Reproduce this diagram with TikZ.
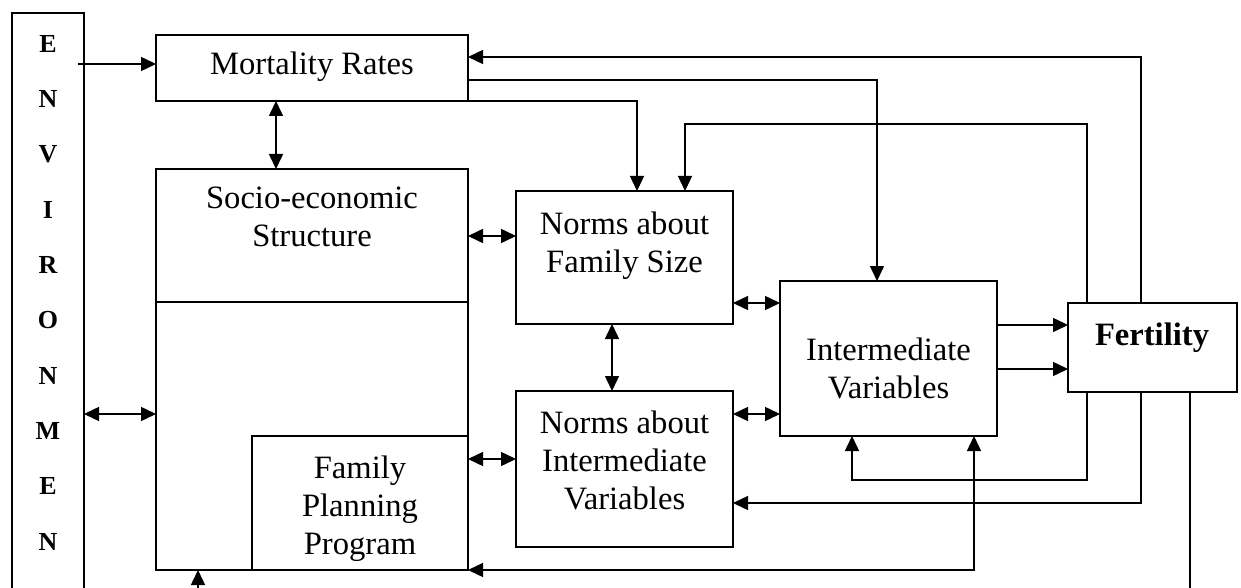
\documentclass[tikz,border=0pt]{standalone}
\usepackage{fontspec}
\setmainfont{Liberation Serif}
\usetikzlibrary{arrows.meta}
\begin{document}
\begin{tikzpicture}[x=0.5pt,y=-0.5pt,
  box/.style={draw,line width=0.75pt,inner sep=0pt,outer sep=0pt,anchor=north west},
  txt/.style={align=center,inner sep=0pt,font=\fontsize{16.3}{19}\selectfont},
  lt/.style={font=\bfseries\fontsize{13}{15}\selectfont,inner sep=0pt},
  con/.style={line width=0.75pt},
  arr/.style={con,-{Triangle[length=7.5pt,width=7pt]}},
  dbl/.style={con,{Triangle[length=7.5pt,width=7pt]}-{Triangle[length=7.5pt,width=7pt]}}]
\useasboundingbox (0,0) rectangle (1241,588);
\clip (0,0) rectangle (1241,588);
% boxes
\node[box,minimum width=36pt,minimum height=300pt] (env) at (12,13) {};
\node[box,minimum width=156pt,minimum height=33pt] (mort) at (156,35) {};
\node[box,minimum width=156pt,minimum height=200.5pt] (socio) at (156,169) {};
\node[box,minimum width=108pt,minimum height=67pt] (fp) at (252,436) {};
\node[box,minimum width=108.5pt,minimum height=66.5pt] (nfs) at (516,191) {};
\node[box,minimum width=108.5pt,minimum height=78pt] (niv) at (516,391) {};
\node[box,minimum width=108.5pt,minimum height=77.5pt] (iv) at (780,281) {};
\node[box,minimum width=84.5pt,minimum height=44.5pt] (fert) at (1068,303) {};
\coordinate (dv) at (0,302);
\draw[con] (socio.west |- dv) -- (socio.east |- dv);
% texts
\node[txt,anchor=base] (mortT) at (312,75) {Mortality Rates};
\node[txt,anchor=north] (socioT) at (312,187) {Socio-economic\\Structure};
\node[txt,anchor=north] (nfsT) at (624.5,211) {Norms about\\Family Size};
\node[txt,anchor=north] (nivT) at (624.5,410) {Norms about\\Intermediate\\Variables};
\node[txt,anchor=north] (fpT) at (360,455) {Family\\Planning\\Program};
\node[txt,anchor=north] (ivT) at (888.5,337) {Intermediate\\Variables};
\node[txt,anchor=north,font=\bfseries\fontsize{16.3}{19}\selectfont] (fertT) at (1152,322) {Fertility};
\foreach \L [count=\i from 0] in {E,N,V,I,R,O,N,M,E,N}
  \node[lt] (e\i) at (48,{44+55.3*\i}) {\L};
% helper coordinates
\coordinate (a1) at (78,64);
\coordinate (x276) at (276,0);
\coordinate (y414) at (0,414);
\coordinate (y236) at (0,236);
\coordinate (y459) at (0,459);
\coordinate (y303) at (0,303);
\coordinate (x612) at (612,0);
\coordinate (y325) at (0,325);
\coordinate (y369) at (0,369);
\coordinate (x637) at (637,0);
\coordinate (y80) at (0,80);
\coordinate (x877) at (877,0);
\coordinate (x1141) at (1141,0);
\coordinate (y57) at (0,57);
\coordinate (x1087) at (1087,0);
\coordinate (y124) at (0,124);
\coordinate (x685) at (685,0);
\coordinate (y480) at (0,480);
\coordinate (x852) at (852,0);
\coordinate (y503) at (0,503);
\coordinate (x1190) at (1190,0);
\coordinate (bot) at (0,600);
\coordinate (x974) at (974,0);
\coordinate (x198) at (198,0);
% connectors
\draw[arr] (a1) -- (mort.west |- a1);
\draw[dbl] (mort.south -| x276) -- (socio.north -| x276);
\draw[dbl] (env.east |- y414) -- (socio.west |- y414);
\draw[dbl] (socio.east |- y236) -- (nfs.west |- y236);
\draw[dbl] (fp.east |- y459) -- (niv.west |- y459);
\draw[dbl] (nfs.east |- y303) -- (iv.west |- y303);
\draw[dbl] (niv.east |- y414) -- (iv.west |- y414);
\draw[dbl] (nfs.south -| x612) -- (niv.north -| x612);
\draw[arr] (iv.east |- y325) -- (fert.west |- y325);
\draw[arr] (iv.east |- y369) -- (fert.west |- y369);
\draw[arr] (mort.south east) -| (nfs.north -| x637);
\draw[arr] (mort.east |- y80) -| (iv.north -| x877);
\draw[arr] (fert.north -| x1141) |- (mort.east |- y57);
\draw[arr] (fert.north -| x1087) -- (x1087 |- y124) -| (nfs.north -| x685);
\draw[arr] (fert.south -| x1087) -- (x1087 |- y480) -| (iv.south -| x852);
\draw[arr] (fert.south -| x1141) |- (niv.east |- y503);
\draw[con] (fert.south -| x1190) -- (x1190 |- bot);
\draw[dbl] (fp.south east) -| (iv.south -| x974);
\draw[arr] (x198 |- bot) -- (socio.south -| x198);
\end{tikzpicture}
\end{document}
